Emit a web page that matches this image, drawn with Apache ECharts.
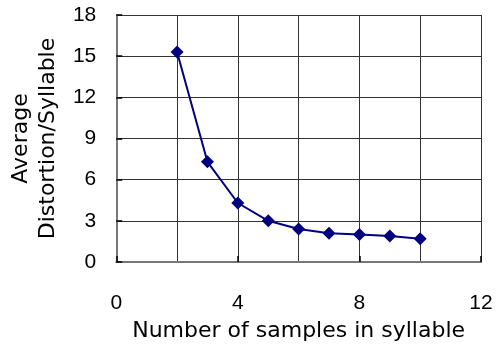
<!DOCTYPE html>
<html><head><meta charset="utf-8">
<script src="https://cdn.jsdelivr.net/npm/echarts@6/dist/echarts.min.js"></script>
<style>html,body{margin:0;padding:0;background:#fff}#c{width:497px;height:347px}</style>
</head><body><div id="c"></div>
<script>
var xValues = [2, 3, 4, 5, 6, 7, 8, 9, 10];
var yValues = [15.3, 7.3, 4.3, 3.0, 2.4, 2.1, 2.0, 1.9, 1.7];
var xTitle = 'Number of samples in syllable';
var yTitle = 'Average\nDistortion/Syllable';
var LABEL_FONT = '"Liberation Sans", Arial, sans-serif';
var TITLE_FONT = '"DejaVu Sans", sans-serif';
var chart = echarts.init(document.getElementById('c'), null, {renderer: 'canvas'});
chart.setOption({
  animation: false,
  backgroundColor: '#fff',
  grid: {left: 115, right: 16, top: 15, bottom: 81, containLabel: false},
  xAxis: {
    type: 'value', min: 0, max: 12, interval: 4,
    name: xTitle, nameLocation: 'middle', nameGap: 58,
    nameTextStyle: {fontFamily: TITLE_FONT, fontSize: 22, color: '#000'},
    axisLine: {show: true, lineStyle: {color: '#777', width: 2}},
    axisTick: {show: true, inside: true, length: 6, lineStyle: {color: '#000', width: 1.5}},
    axisLabel: {fontFamily: LABEL_FONT, fontSize: 21, color: '#000', margin: 31},
    splitLine: {show: true, lineStyle: {color: '#333', width: 1}},
    minorTick: {show: false, splitNumber: 2},
    minorSplitLine: {show: true, lineStyle: {color: '#333', width: 1}}
  },
  yAxis: {
    type: 'value', min: 0, max: 18, interval: 3,
    name: yTitle, nameLocation: 'middle', nameGap: 46, nameRotate: 90,
    nameTextStyle: {fontFamily: TITLE_FONT, fontSize: 22, color: '#000', lineHeight: 27},
    axisLine: {show: true, lineStyle: {color: '#777', width: 2}},
    axisTick: {show: true, inside: true, length: 6, lineStyle: {color: '#000', width: 1.5}},
    axisLabel: {fontFamily: LABEL_FONT, fontSize: 21, color: '#000', margin: 20, padding: [6, 0, 0, 0]},
    splitLine: {show: true, lineStyle: {color: '#333', width: 1}}
  },
  series: [{
    type: 'line',
    data: xValues.map(function (x, i) { return [x, yValues[i]]; }),
    symbol: 'diamond', symbolSize: 13,
    lineStyle: {color: '#000080', width: 2},
    itemStyle: {color: '#000080'}
  }]
});
</script></body></html>
